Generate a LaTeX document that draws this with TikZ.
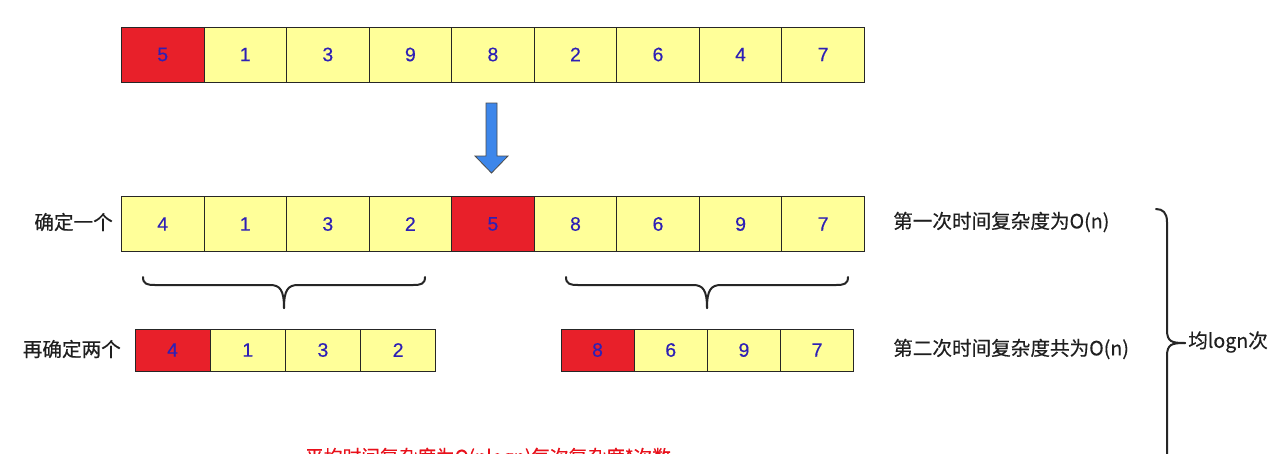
\documentclass[tikz,border=0pt]{standalone}
\usepackage{fontspec}
\setmainfont{Liberation Sans}
\newfontfamily\cjk[FakeBold=0.4]{Noto Sans CJK SC}
\newfontfamily\numfont[FakeBold=0.3]{Liberation Sans}
\definecolor{cellyel}{HTML}{FFFF99}
\definecolor{cellred}{HTML}{E8202A}
\definecolor{numblue}{HTML}{2E20B5}
\definecolor{arrblue}{HTML}{3D86EA}
\definecolor{txtred}{HTML}{E8101A}
\tikzset{
  cell/.style={draw=black!85, line width=0.9pt, minimum height=55pt, inner sep=0pt,
    font=\numfont\fontsize{19.5}{19.5}\selectfont, text=numblue, anchor=west},
  bigcell/.style={cell, minimum width=82.55pt, minimum height=55pt},
  smallcell/.style={cell, minimum width=74.5pt, minimum height=42pt},
  lbl/.style={font=\cjk\fontsize{19.6}{19.6}\selectfont, text=black!88, inner sep=0pt},
  bracestyle/.style={draw=black!85, line width=2pt, line cap=round, line join=round},
}
\begin{document}
\begin{tikzpicture}[x=1pt,y=-1pt]
\clip (0,0) rectangle (1280,453);
\fill[white] (0,0) rectangle (1280,453);
% row 1
\foreach \v [count=\i] in {5,1,3,9,8,2,6,4,7} {
  \pgfmathsetmacro{\xx}{121+(\i-1)*82.55}
  \ifnum\i=1 \def\fc{cellred}\else\def\fc{cellyel}\fi
  \node[bigcell, fill=\fc] (a\i) at (\xx,54.5) {\v};
}
% row 2
\foreach \v [count=\i] in {4,1,3,2,5,8,6,9,7} {
  \pgfmathsetmacro{\xx}{121+(\i-1)*82.55}
  \ifnum\i=5 \def\fc{cellred}\else\def\fc{cellyel}\fi
  \node[bigcell, fill=\fc] (b\i) at (\xx,224) {\v};
}
% row 3 left
\foreach \v [count=\i] in {4,1,3,2} {
  \pgfmathsetmacro{\xx}{134.5+(\i-1)*75.2}
  \ifnum\i=1 \def\fc{cellred}\else\def\fc{cellyel}\fi
  \node[smallcell, fill=\fc, minimum width=75.2pt] (c\i) at (\xx,350) {\v};
}
% row 3 right
\foreach \v [count=\i] in {8,6,9,7} {
  \pgfmathsetmacro{\xx}{560.5+(\i-1)*73.2}
  \ifnum\i=1 \def\fc{cellred}\else\def\fc{cellyel}\fi
  \node[smallcell, fill=\fc, minimum width=73.2pt] (d\i) at (\xx,350) {\v};
}
% arrow
\filldraw[fill=arrblue, draw=black!70, line width=0.8pt, line join=miter]
  (486,103) -- (497,103) -- (497,156) -- (508,156) -- (491.5,173) -- (475,156) -- (486,156) -- cycle;
% labels
\node[lbl, anchor=east] (l1) at (113,222) {确定一个};
\node[lbl, anchor=east] (l2) at (121,349) {再确定两个};
\node[lbl, anchor=west] (l3) at (893,222) {第一次时间复杂度为O(n)};
\node[lbl, anchor=west] (l4) at (893,349) {第二次时间复杂度共为O(n)};
\node[lbl, anchor=west] (l5) at (1188,342) {均logn次};
\node[lbl, anchor=west, text=txtred, font=\cjk\fontsize{18.7}{18.7}\selectfont] (l6) at (305,458) {平均时间复杂度为O(nlogn)每次复杂度*次数};
% left brace
\draw[bracestyle] (143,277) .. controls (143,284) and (147,285) .. (155,285) -- (270,285)
  .. controls (280,285) and (284,290) .. (284,308);
\draw[bracestyle] (425,277) .. controls (425,284) and (421,285) .. (413,285) -- (298,285)
  .. controls (288,285) and (284,290) .. (284,308);
% right brace
\draw[bracestyle] (566,277) .. controls (566,284) and (570,285) .. (578,285) -- (693,285)
  .. controls (703,285) and (707,290) .. (707,308);
\draw[bracestyle] (848,277) .. controls (848,284) and (844,285) .. (836,285) -- (721,285)
  .. controls (711,285) and (707,290) .. (707,308);
% big brace
\draw[bracestyle] (1156,209) .. controls (1163,209) and (1167,213) .. (1167,222) -- (1167,330)
  .. controls (1167,342) and (1172,343) .. (1185,343);
\draw[bracestyle] (1185,343) .. controls (1172,343) and (1167,344) .. (1167,356) -- (1167,470);
\end{tikzpicture}
\end{document}
